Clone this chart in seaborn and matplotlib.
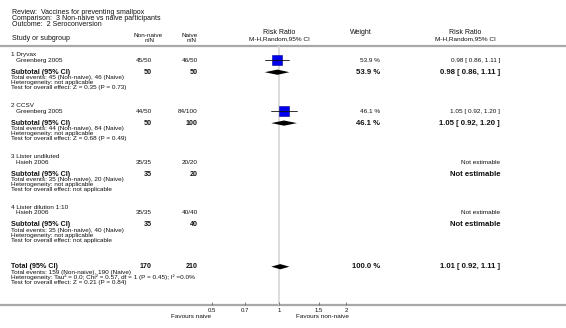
import numpy as np
import pandas as pd
import matplotlib
matplotlib.use("Agg")
import matplotlib.pyplot as plt
import seaborn as sns

# ---------------- data ----------------
title_lines = ["Review:  Vaccines for preventing smallpox",
               "Comparison:  3 Non-naive vs naive participants",
               "Outcome:  2 Seroconversion"]
groups = ["1 Dryvax", "2 CCSV", "3 Lister undiluted", "4 Lister dilution 1:10"]
studies = ["Greenberg 2005", "Greenberg 2005", "Hsieh 2006", "Hsieh 2006"]
nonnaive_events = [45, 44, 35, 35]
nonnaive_n = [50, 50, 35, 35]
naive_events = [46, 84, 20, 40]
naive_n = [50, 100, 20, 40]
weights = [53.9, 46.1, np.nan, np.nan]
rr = [0.98, 1.05, np.nan, np.nan]
rr_lo = [0.86, 0.92, np.nan, np.nan]
rr_hi = [1.11, 1.20, np.nan, np.nan]
overall_tests = ["Z = 0.35 (P = 0.73)", "Z = 0.68 (P = 0.49)", "not applicable", "not applicable"]
total_n = [170, 210]
total_events = [159, 190]
total_rr = [1.01, 0.92, 1.11]
total_het = "Heterogeneity: Tau\u00b2 = 0.0; Chi\u00b2 = 0.57, df = 1 (P = 0.45); I\u00b2 =0.0%"
total_test = "Test for overall effect: Z = 0.21 (P = 0.84)"
ticks = [0.5, 0.7, 1, 1.5, 2]
tick_labels = ["0.5", "0.7", "1", "1.5", "2"]
favours = ["Favours naive", "Favours non-naive"]

# ---------------- layout ----------------
W, H = 566, 328
sns.set_theme(style="white")
plt.rcParams["font.family"] = ["Liberation Sans", "DejaVu Sans"]
fig = plt.figure(figsize=(W / 100, H / 100), dpi=100)
bg = fig.add_axes([0, 0, 1, 1])
bg.set_xlim(0, W)
bg.set_ylim(H, 0)
bg.axis("off")

TXT = "#111111"
FS = 5.0
FS_S = 4.6
FS_B = 5.1
FS_BR = 5.6
x_left = 11
x_study = 16
x_nn = 152
x_nv = 198
x_w = 380
x_rr = 500
x_plot_c = 279.3

def t(x, y, s, fs=FS, ha="left", bold=False):
    bg.text(x, y, s, fontsize=fs, ha=ha, va="center", color=TXT,
            fontweight="bold" if bold else "normal")

# title
for i, line in enumerate(title_lines):
    t(12, 13 + 6 * i, line)
# headers
t(12, 38, "Study or subgroup")
t(148, 35.5, "Non-naive", fs=FS_S, ha="center")
t(150, 41, "n/N", fs=FS_S, ha="center")
t(190, 35.5, "Naive", fs=FS_S, ha="center")
t(192, 41, "n/N", fs=FS_S, ha="center")
t(x_plot_c, 33, "Risk Ratio", ha="center")
t(x_plot_c, 38.5, "M-H,Random,95% CI", fs=FS_S, ha="center")
t(361, 33, "Weight", ha="center")
t(465, 33, "Risk Ratio", ha="center")
t(465, 38.5, "M-H,Random,95% CI", fs=FS_S, ha="center")

LINE_C = "#a8a8a8"
bg.plot([0, W], [46, 46], color=LINE_C, lw=1.6, solid_capstyle="butt")
bg.plot([0, W], [304.5, 304.5], color=LINE_C, lw=1.6, solid_capstyle="butt")

# forest axes positioned in pixel units
px_per_ln = 96.7
ax_l, ax_r, ax_t, ax_b = 200, 360, 46, 304.5
ax = fig.add_axes([ax_l / W, 1 - ax_b / H, (ax_r - ax_l) / W, (ax_b - ax_t) / H])
ax.set_xscale("log")
ax.set_xlim(np.exp((ax_l - x_plot_c) / px_per_ln), np.exp((ax_r - x_plot_c) / px_per_ln))
ax.set_ylim(ax_b, ax_t)
ax.patch.set_alpha(0)
for s in ax.spines.values():
    s.set_visible(False)
ax.axvline(1, color="#dcdcdc", lw=1.4, zorder=0)

head_y = [54.6 + 50.9 * i for i in range(4)]
study_y = [y + 5.6 for y in head_y]
sub_y = [y + 17.6 for y in head_y]

rows = []
for i, g in enumerate(groups):
    hy, sy, by = head_y[i], study_y[i], sub_y[i]
    t(x_left, hy, g, fs=FS_S)
    t(x_study, sy, studies[i], fs=FS_S)
    t(x_nn, sy, f"{nonnaive_events[i]}/{nonnaive_n[i]}", fs=FS_S, ha="right")
    t(x_nv, sy, f"{naive_events[i]}/{naive_n[i]}", fs=FS_S, ha="right")
    t(x_left, by, "Subtotal (95% CI)", fs=FS_B, bold=True)
    t(x_nn, by, f"{nonnaive_n[i]}", fs=FS_B, ha="right", bold=True)
    t(x_nv, by, f"{naive_n[i]}", fs=FS_B, ha="right", bold=True)
    t(x_left, by + 5.6, f"Total events: {nonnaive_events[i]} (Non-naive), {naive_events[i]} (Naive)", fs=FS_S)
    t(x_left, by + 10.6, "Heterogeneity: not applicable", fs=FS_S)
    t(x_left, by + 15.6, f"Test for overall effect: {overall_tests[i]}", fs=FS_S)
    if np.isnan(rr[i]):
        t(x_rr, sy, "Not estimable", fs=FS_S, ha="right")
        t(x_rr, by, "Not estimable", fs=FS_BR, ha="right", bold=True)
    else:
        t(x_w, sy, f"{weights[i]:.1f} %", fs=FS_S, ha="right")
        t(x_w, by, f"{weights[i]:.1f} %", fs=FS_BR, ha="right", bold=True)
        t(x_rr, sy, f"{rr[i]:.2f} [ {rr_lo[i]:.2f}, {rr_hi[i]:.2f} ]", fs=FS_S, ha="right")
        t(x_rr, by, f"{rr[i]:.2f} [ {rr_lo[i]:.2f}, {rr_hi[i]:.2f} ]", fs=FS_BR, ha="right", bold=True)
        rows.append(dict(rr=rr[i], lo=rr_lo[i], hi=rr_hi[i], y=sy, sub_y=by, w=weights[i]))

df = pd.DataFrame(rows)
sns.scatterplot(data=df, x="rr", y="y", size="w", sizes=(0, 96), size_norm=(0, 100),
                marker="s", color="#0000ee", edgecolor="#00008b", linewidth=0.4,
                legend=False, ax=ax, zorder=3)
for _, r in df.iterrows():
    ax.plot([r.lo, r.hi], [r.y, r.y], color="#111111", lw=0.6, zorder=4)
    ax.plot([r.rr, r.rr], [r.y - 1.2, r.y + 1.2], color="#000044", lw=0.4, zorder=4)

def diamond(est, lo, hi, y, h=2.6):
    ax.fill([lo, est, hi, est], [y, y - h, y, y + h], color="black", lw=0, zorder=3)

for _, r in df.iterrows():
    diamond(r.rr, r.lo, r.hi, r.sub_y)

# total
ty = 266.7
t(x_left, ty, "Total (95% CI)", fs=FS_B, bold=True)
t(x_nn, ty, f"{total_n[0]}", fs=FS_B, ha="right", bold=True)
t(x_nv, ty, f"{total_n[1]}", fs=FS_B, ha="right", bold=True)
t(x_w, ty, "100.0 %", fs=FS_BR, ha="right", bold=True)
t(x_rr, ty, f"{total_rr[0]:.2f} [ {total_rr[1]:.2f}, {total_rr[2]:.2f} ]", fs=FS_BR, ha="right", bold=True)
t(x_left, ty + 5.8, f"Total events: {total_events[0]} (Non-naive), {total_events[1]} (Naive)", fs=FS_S)
t(x_left, ty + 10.9, total_het, fs=FS_S)
t(x_left, ty + 16.0, total_test, fs=FS_S)
diamond(total_rr[0], total_rr[1], total_rr[2], ty)

# axis ticks
ax.set_xlabel("")
ax.set_ylabel("")
ax.set_xticks(ticks)
ax.set_xticklabels(tick_labels)
ax.xaxis.set_minor_locator(matplotlib.ticker.NullLocator())
ax.tick_params(axis="x", direction="in", length=2.5, width=0.5, color="#555555",
               labelsize=4.3, pad=2.2, labelcolor=TXT, bottom=True)
ax.set_yticks([])
t(191, 316.5, favours[0], fs=FS_S, ha="center")
t(322, 316.5, favours[1], fs=FS_S, ha="center")

fig.savefig("out.png", dpi=100, facecolor="white")
